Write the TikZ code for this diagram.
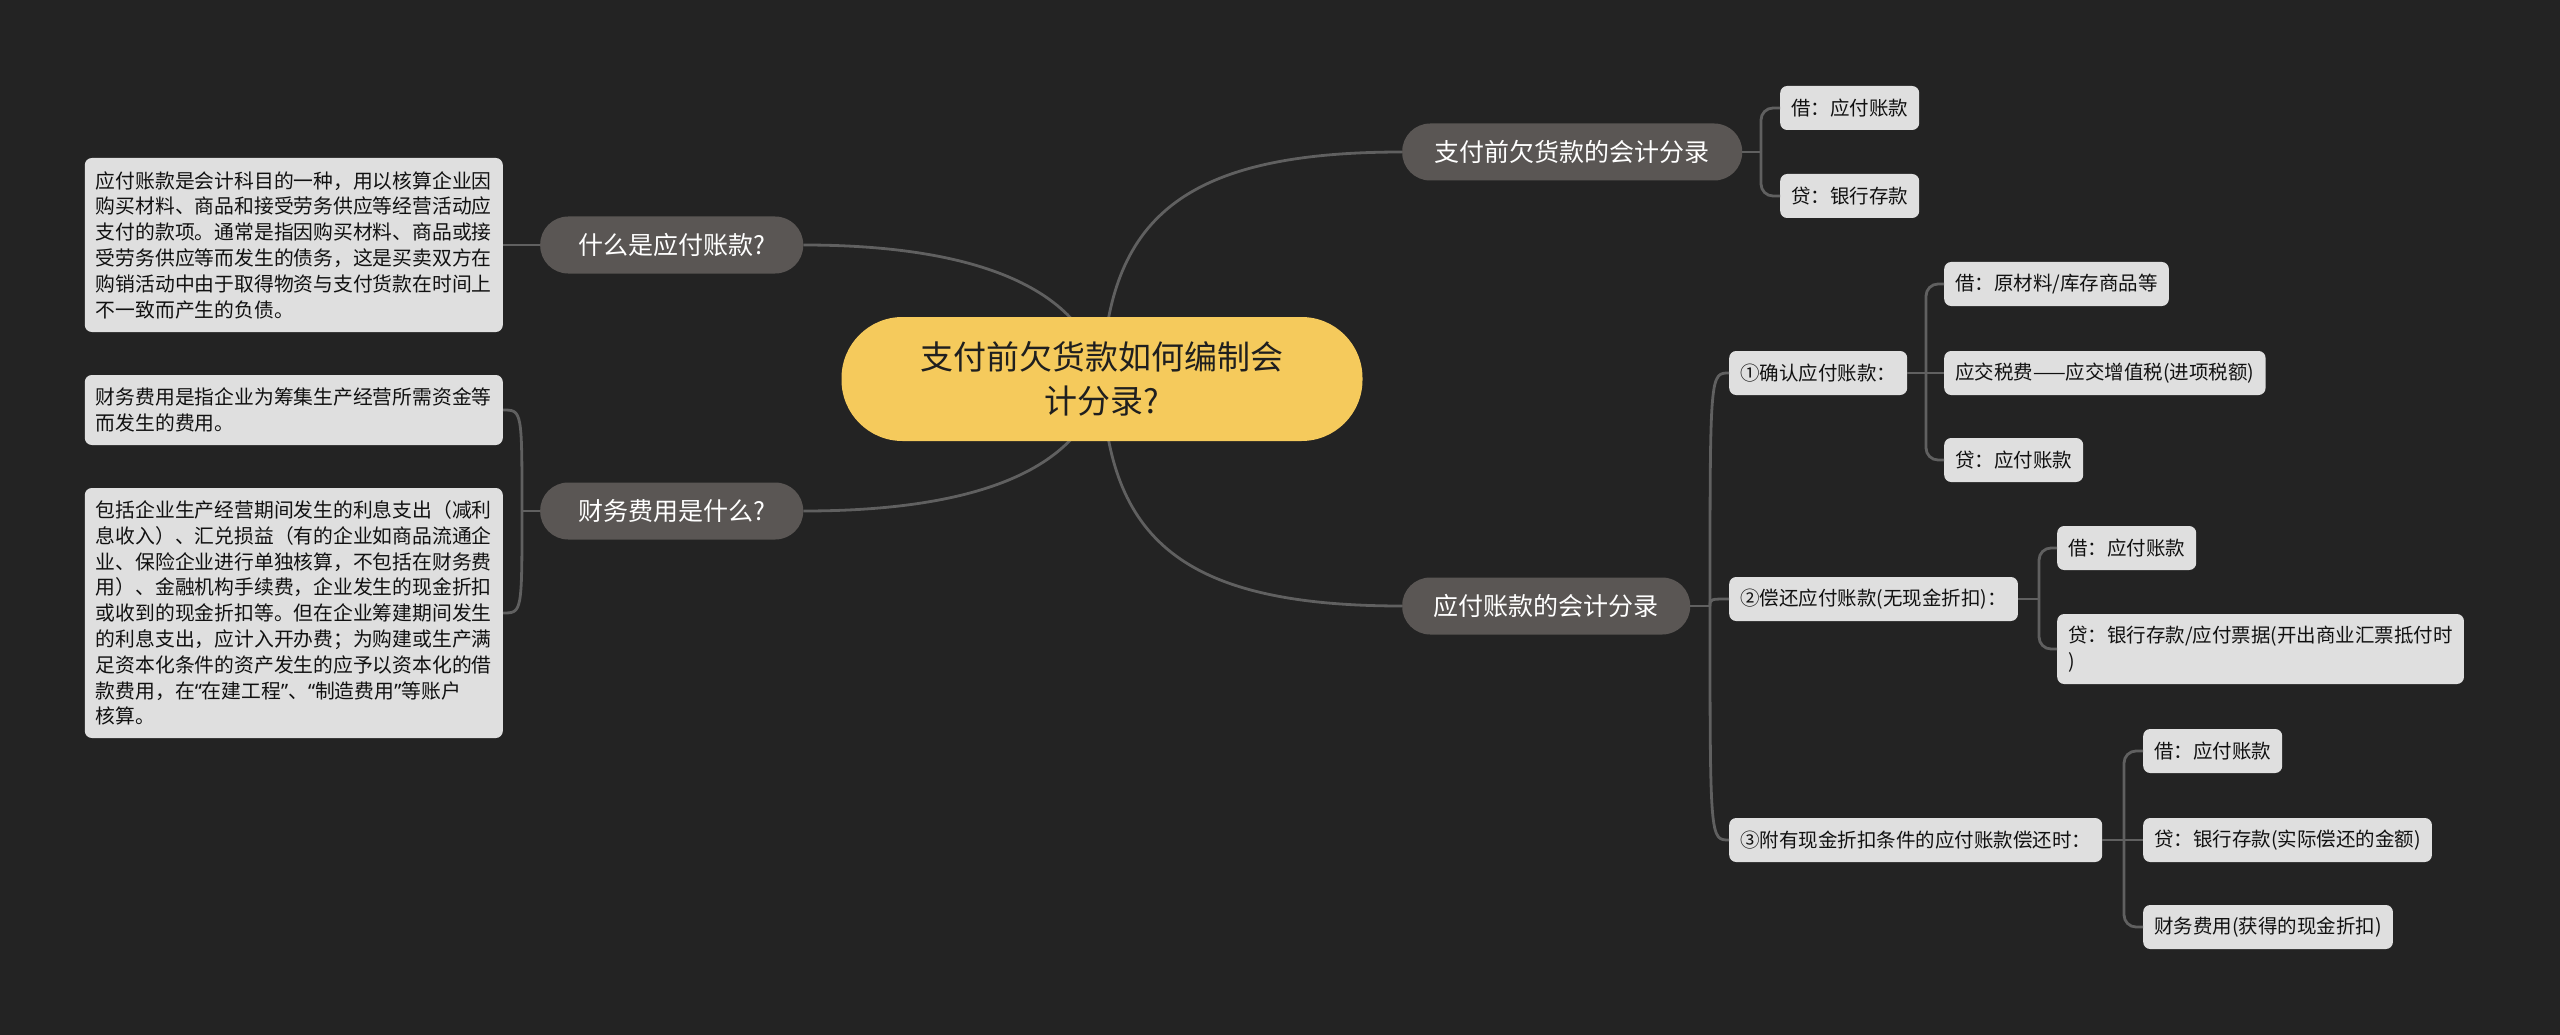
\documentclass[tikz,border=0pt]{standalone}
\usepackage{fontspec}
\setmainfont{Noto Sans CJK SC}
\newfontfamily\latinq{Noto Sans}
\usetikzlibrary{calc}
\definecolor{bgc}{HTML}{232323}
\definecolor{connc}{HTML}{606060}
\definecolor{l1c}{HTML}{5A5654}
\definecolor{leafc}{HTML}{DFDFDF}
\definecolor{leaftxt}{HTML}{111111}
\definecolor{rootc}{HTML}{F5CA5C}
\definecolor{roottxt}{HTML}{1F1F1F}
\pgfdeclarelayer{bg}
\pgfsetlayers{bg,main}
\newcommand{\myLQ}{{\latinq “}}
\newcommand{\myRQ}{{\latinq ”}}
\tikzset{
  conn/.style={draw=connc, line width=2.8pt},
  rootnode/.style={fill=rootc, text=roottxt, rounded corners=61pt, minimum width=521pt, minimum height=124pt, align=center, font=\fontsize{33}{44}\selectfont, inner sep=0pt},
  topic/.style={fill=l1c, text=white, rounded corners=28pt, minimum height=57pt, inner sep=0pt, font=\fontsize{25}{30}\selectfont, anchor=west},
  leaf/.style={fill=leafc, text=leaftxt, rounded corners=7pt, minimum height=44pt, inner xsep=11pt, inner ysep=0pt, font=\fontsize{19.5}{25.8}\selectfont, anchor=west},
  note/.style={fill=leafc, text=leaftxt, rounded corners=7pt, text width=396pt, align=left, inner xsep=11pt, inner ysep=0pt, font=\fontsize{19.8}{25.8}\selectfont, anchor=east},
}
\begin{document}
\begin{tikzpicture}[x=1pt, y=-1pt]
\useasboundingbox (0,0) rectangle (2560,1035);
\begin{pgfonlayer}{bg}
\fill[bgc] (0,0) rectangle (2560,1035);
\end{pgfonlayer}

% root
\node[rootnode] (root) at (1102,379) {支付前欠货款如何编制会\\计分录?};

% level 1
\node[topic, minimum width=340pt] (A) at (1402,152) {支付前欠货款的会计分录};
\node[topic, minimum width=288pt] (B) at (1402,606) {应付账款的会计分录};
\node[topic, minimum width=263pt] (C) at (540,245) {什么是应付账款?};
\node[topic, minimum width=263pt] (D) at (540,511) {财务费用是什么?};

% A children
\node[leaf] (a1) at (1780,108) {借：应付账款};
\node[leaf] (a2) at (1780,196) {贷：银行存款};

% B children
\node[leaf] (b1) at (1729,373) {①确认应付账款：};
\node[leaf] (b2) at (1729,599) {②偿还应付账款(无现金折扣)：};
\node[leaf] (b3) at (1729,840) {③附有现金折扣条件的应付账款偿还时：};

% (1) children
\node[leaf] (c11) at (1944,284) {借：原材料/库存商品等};
\node[leaf] (c12) at (1944,373) {应交税费——应交增值税(进项税额)};
\node[leaf] (c13) at (1944,460) {贷：应付账款};

% (2) children
\node[leaf] (c21) at (2057,548) {借：应付账款};
\node[leaf, minimum height=70pt, align=left] (c22) at (2057,649) {贷：银行存款/应付票据(开出商业汇票抵付时\\)};

% (3) children
\node[leaf] (c31) at (2143,751) {借：应付账款};
\node[leaf] (c32) at (2143,840) {贷：银行存款(实际偿还的金额)};
\node[leaf] (c33) at (2143,927) {财务费用(获得的现金折扣)};

% left notes
\node[note, minimum height=174pt] (n1) at (503,245) {应付账款是会计科目的一种，用以核算企业因\\购买材料、商品和接受劳务供应等经营活动应\\支付的款项。通常是指因购买材料、商品或接\\受劳务供应等而发生的债务，这是买卖双方在\\购销活动中由于取得物资与支付货款在时间上\\不一致而产生的负债。};
\node[note, minimum height=70pt] (n2) at (503,410) {财务费用是指企业为筹集生产经营所需资金等\\而发生的费用。};
\node[note, minimum height=250pt] (n3) at (503,613) {包括企业生产经营期间发生的利息支出（减利\\息收入）、汇兑损益（有的企业如商品流通企\\业、保险企业进行单独核算，不包括在财务费\\用）、金融机构手续费，企业发生的现金折扣\\或收到的现金折扣等。但在企业筹建期间发生\\的利息支出，应计入开办费；为购建或生产满\\足资本化条件的资产发生的应予以资本化的借\\款费用，在\myLQ 在建工程\myRQ 、\myLQ 制造费用\myRQ 等账户\\核算。};

% junctions
\coordinate (jA) at (1761,152);
\coordinate (jB) at (1710,606);
\coordinate (j1) at (1926,373);
\coordinate (j2) at (2039,599);
\coordinate (j3) at (2124,840);
\coordinate (jD) at (522,511);

\begin{pgfonlayer}{bg}
% root connectors
\draw[conn] (root.center) .. controls (1108,220) and (1180,152) .. (A.west);
\draw[conn] (root.center) .. controls (1108,538) and (1180,606) .. (B.west);
\draw[conn] (root.center) .. controls (1085,290) and (980,245) .. (C.east);
\draw[conn] (root.center) .. controls (1085,468) and (980,511) .. (D.east);
\end{pgfonlayer}

% A bracket
\draw[conn] (A.east) -- (jA);
\draw[conn, rounded corners=12pt] (jA) |- (a1.west);
\draw[conn, rounded corners=12pt] (jA) |- (a2.west);

% B bracket
\draw[conn] (B.east) -- (jB);
\draw[conn] (jB) .. controls (jB |- b1.west) .. (b1.west);
\draw[conn] (jB) .. controls (jB |- b2.west) .. (b2.west);
\draw[conn] (jB) .. controls (jB |- b3.west) .. (b3.west);

% (1) bracket
\draw[conn] (b1.east) -- (c12.west);
\draw[conn, rounded corners=12pt] (j1) |- (c11.west);
\draw[conn, rounded corners=12pt] (j1) |- (c13.west);

% (2) bracket
\draw[conn] (b2.east) -- (j2);
\draw[conn, rounded corners=12pt] (j2) |- (c21.west);
\draw[conn, rounded corners=12pt] (j2) |- (c22.west);

% (3) bracket
\draw[conn] (b3.east) -- (c32.west);
\draw[conn, rounded corners=12pt] (j3) |- (c31.west);
\draw[conn, rounded corners=12pt] (j3) |- (c33.west);

% C and D
\draw[conn] (C.west) -- (n1.east);
\draw[conn] (D.west) -- (jD);
\draw[conn] (jD) .. controls (jD |- n2.east) .. (n2.east);
\draw[conn] (jD) .. controls (jD |- n3.east) .. (n3.east);
\end{tikzpicture}
\end{document}
